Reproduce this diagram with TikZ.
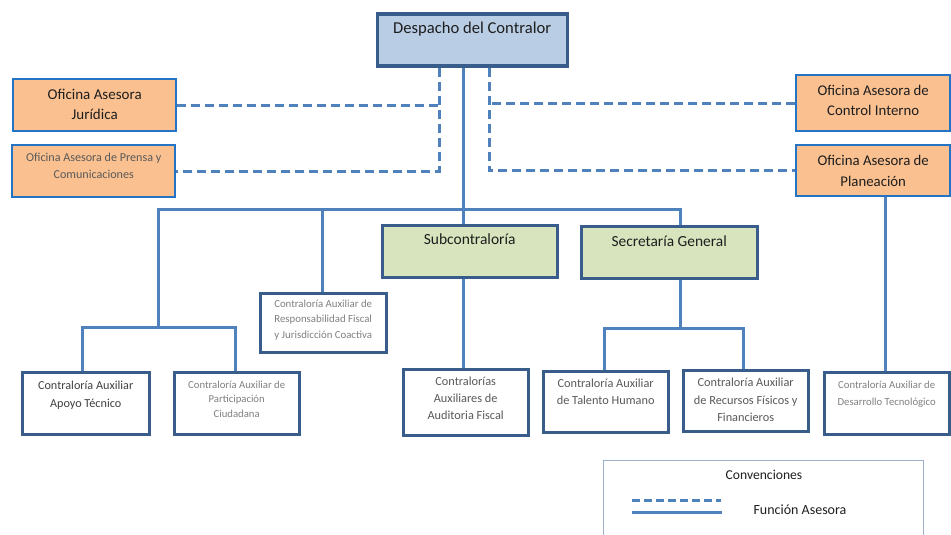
\documentclass[tikz,border=0pt]{standalone}
\usepackage{fontspec}
\setmainfont{Carlito}
\definecolor{lineblue}{HTML}{4F81BD}
\definecolor{boxdark}{HTML}{385D8A}
\definecolor{orgborder}{HTML}{2473C4}
\definecolor{despfill}{HTML}{B9CDE5}
\definecolor{orgfill}{HTML}{FAC090}
\definecolor{grnfill}{HTML}{D7E4BD}
\definecolor{legborder}{HTML}{9DB0CA}
\definecolor{txtdark}{HTML}{1E1E1E}
\definecolor{txtmid}{HTML}{404040}
\definecolor{txtgray}{HTML}{595959}
\definecolor{txtlight}{HTML}{808080}
\tikzset{
  ln/.style={draw=lineblue, line width=3pt},
  dsh/.style={draw=lineblue, line width=3pt, dash pattern=on 9pt off 5pt},
  bx/.style={draw=boxdark, line width=3.4pt, fill=white, anchor=north west, inner sep=0pt},
  despbox/.style={bx, fill=despfill},
  grnbox/.style={bx, fill=grnfill},
  orgbox/.style={draw=orgborder, line width=2.4pt, fill=orgfill, anchor=north west, inner sep=0pt},
  txt/.style={anchor=north, align=center, inner sep=0pt},
}
\begin{document}
\begin{tikzpicture}[x=1pt, y=-1pt]
\useasboundingbox (0,0) rectangle (951,535);

% boxes
\node[despbox, minimum width=190, minimum height=52] (desp) at (375.5,12.5) {};
\node[orgbox, minimum width=163, minimum height=52] (jur) at (12,78) {};
\node[orgbox, minimum width=163, minimum height=52] (prensa) at (11,144) {};
\node[orgbox, minimum width=154, minimum height=56] (ctrl) at (795,74) {};
\node[orgbox, minimum width=154, minimum height=51] (plan) at (795,144) {};
\node[grnbox, minimum width=175, minimum height=52] (sub) at (380.5,223.5) {};
\node[grnbox, minimum width=176, minimum height=52] (sec) at (579.5,224.5) {};
\node[bx, minimum width=126, minimum height=59] (resp) at (258.5,291.5) {};
\node[bx, minimum width=127, minimum height=62] (apoyo) at (20.5,370.5) {};
\node[bx, minimum width=125, minimum height=62] (part) at (172.5,370.5) {};
\node[bx, minimum width=125, minimum height=66] (audit) at (401.5,367.5) {};
\node[bx, minimum width=125, minimum height=61] (tal) at (541.5,369.5) {};
\node[bx, minimum width=125, minimum height=61] (rec) at (681.5,368.5) {};
\node[bx, minimum width=125, minimum height=62] (des) at (822.5,370.5) {};

% texts
\node[txt, text=txtdark, font=\fontsize{16.6}{19}\selectfont] (tdesp) at (desp.center |- 0,22) {Despacho del Contralor};
\node[txt, text=txtdark, font=\fontsize{15}{20}\selectfont] (tjur) at (jur.center |- 0,89) {Oficina Asesora\\Jurídica};
\node[txt, text=txtgray, font=\fontsize{12.1}{17}\selectfont] (tprensa) at (prensa.center |- 0,152.5) {Oficina Asesora de Prensa y\\Comunicaciones};
\node[txt, text=txtdark, font=\fontsize{14.8}{20}\selectfont] (tctrl) at (ctrl.center |- 0,85) {Oficina Asesora de\\Control Interno};
\node[txt, text=txtdark, font=\fontsize{14.8}{21}\selectfont] (tplan) at (plan.center |- 0,155) {Oficina Asesora de\\Planeación};
\node[txt, text=txtdark, font=\fontsize{15.5}{17}\selectfont] (tsub) at (sub.center |- 0,234) {Subcontraloría};
\node[txt, text=txtdark, font=\fontsize{15.4}{17}\selectfont] (tsec) at (sec.center |- 0,236) {Secretaría General};
\node[txt, text=txtlight, font=\fontsize{10.8}{15.5}\selectfont] (tresp) at (resp.center |- 0,299.5) {Contraloría Auxiliar de\\Responsabilidad Fiscal\\y Jurisdicción Coactiva};
\node[txt, text=txtmid, font=\fontsize{12.2}{18}\selectfont] (tapoyo) at (apoyo.center |- 0,380.5) {Contraloría Auxiliar\\Apoyo Técnico};
\node[txt, text=txtlight, font=\fontsize{10.7}{14.5}\selectfont] (tpart) at (part.center |- 0,380.5) {Contraloría Auxiliar de\\Participación\\Ciudadana};
\node[txt, text=txtgray, font=\fontsize{12.3}{17}\selectfont] (taudit) at (audit.center |- 0,377) {Contralorías\\Auxiliares de\\Auditoria Fiscal};
\node[txt, text=txtgray, font=\fontsize{12.3}{17}\selectfont] (ttal) at (tal.center |- 0,379) {Contraloría Auxiliar\\de Talento Humano};
\node[txt, text=txtgray, font=\fontsize{12.3}{17.5}\selectfont] (trec) at (rec.center |- 0,378) {Contraloría Auxiliar\\de Recursos Físicos y\\Financieros};
\node[txt, text=txtlight, font=\fontsize{10.7}{17}\selectfont] (tdes) at (des.center |- 0,380.5) {Contraloría Auxiliar de\\Desarrollo Tecnológico};

% junction coordinates
\coordinate (jA) at (463,209);
\coordinate (bl) at (158,209);
\coordinate (br) at (680,209);
\coordinate (jr) at (322,209);
\coordinate (s0) at (158,327);
\coordinate (s1) at (82,327);
\coordinate (s2) at (235,327);
\coordinate (r0) at (680,328);
\coordinate (r1) at (604,328);
\coordinate (r2) at (743,328);
\coordinate (pl) at (885,0);
\coordinate (dl) at (439,0);
\coordinate (dr) at (489,0);

% solid connectors
\draw[ln] (desp.south -| jA) -- (sub.north -| jA);
\draw[ln] (s0) -- (bl) -- (br) -- (sec.north -| br);
\draw[ln] (jr) -- (resp.north -| jr);
\draw[ln] (apoyo.north -| s1) -- (s1) -- (s2) -- (part.north -| s2);
\draw[ln] (sub.south -| jA) -- (audit.north -| jA);
\draw[ln] (sec.south -| r0) -- (r0);
\draw[ln] (tal.north -| r1) -- (r1) -- (r2) -- (rec.north -| r2);
\draw[ln] (plan.south -| pl) -- (des.north -| pl);

% dashed connectors
\draw[dsh] (desp.south -| dl) |- (prensa.east);
\draw[dsh] (jur.east) -- (jur.east -| dl);
\draw[dsh] (desp.south -| dr) |- (plan.west);
\draw[dsh] (ctrl.west) -- (ctrl.west -| dr);

% legend
\draw[draw=legborder, line width=1.6pt] (603.5,545) -- (603.5,460.5) -- (923.5,460.5) -- (923.5,545);
\node[anchor=center, inner sep=0pt, text=txtdark, font=\fontsize{13.6}{15}\selectfont] (lconv) at (764,475) {Convenciones};
\coordinate (la1) at (632,500);
\coordinate (la2) at (721,500);
\coordinate (lb1) at (632,512);
\coordinate (lb2) at (722,512);
\draw[draw=lineblue, line width=3pt, dash pattern=on 8pt off 4pt] (la1) -- (la2);
\draw[ln] (lb1) -- (lb2);
\node[anchor=center, inner sep=0pt, text=txtdark, font=\fontsize{14}{15}\selectfont] (lfun) at (800,510) {Función Asesora};
\end{tikzpicture}
\end{document}
